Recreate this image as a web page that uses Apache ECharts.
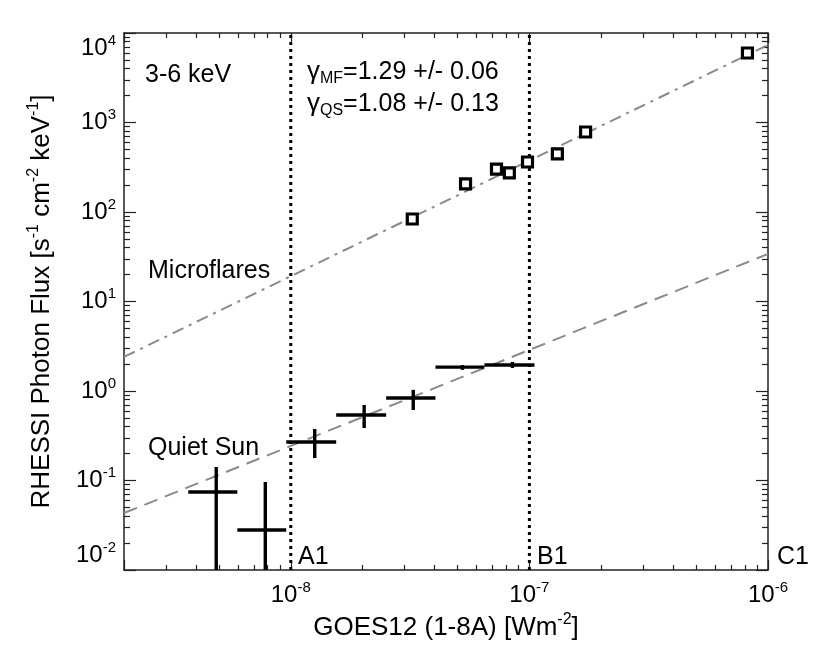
<!DOCTYPE html>
<html><head><meta charset="utf-8">
<script src="https://cdn.jsdelivr.net/npm/echarts@6/dist/echarts.min.js"></script>
<style>html,body{margin:0;padding:0;background:#fff}#c{width:830px;height:652px}</style>
</head><body><div id="c"></div>
<script>
// ---- Data ----
// Microflares (squares)
const mfX = [3.23e-8, 5.40e-8, 7.28e-8, 8.24e-8, 9.82e-8, 1.31e-7, 1.72e-7, 8.20e-7];
const mfY = [83.5, 206, 302, 273, 362, 445, 783, 5980];
// Quiet Sun (crosses): centre, bin edges, error range
const qsX   = [4.87e-9, 7.82e-9, 1.26e-8, 2.03e-8, 3.26e-8, 5.24e-8, 8.49e-8];
const qsY   = [0.0744, 0.0280, 0.269, 0.539, 0.835, 1.85, 1.95];
const qsXlo = [3.72e-9, 5.97e-9, 9.57e-9, 1.55e-8, 2.51e-8, 4.04e-8, 6.48e-8];
const qsXhi = [5.97e-9, 9.57e-9, 1.55e-8, 2.51e-8, 4.04e-8, 6.48e-8, 1.05e-7];
const qsYlo = [0.001, 0.001, 0.178, 0.386, 0.613, 1.72, 1.81];
const qsYhi = [0.1416, 0.0962, 0.376, 0.698, 1.03, 1.95, 2.11];
// Power-law fit lines (end points)
const mfFitX = [2e-9, 1e-6];
const mfFitY = [2.40, 7350];
const qsFitX = [2e-9, 1e-6];
const qsFitY = [0.0433, 34];
// GOES class boundaries
const classX = [1e-8, 1e-7];
const classLabels = ['A1', 'B1', 'C1'];
// Axis ranges and minor tick mantissas
const xRange = [2e-9, 1e-6];
const yRange = [1e-2, 1e4];
const mantissas = [2, 3, 4, 5, 6, 7, 8, 9];
const xDecades = [1e-9, 1e-8, 1e-7];
const yDecades = [1e-2, 1e-1, 1, 1e1, 1e2, 1e3];

const FONT = "'Liberation Sans', Arial, Helvetica, sans-serif";
function minorTicks(decades, range) {
  const out = [];
  decades.forEach(d => mantissas.forEach(m => { const v = m * d; if (v > range[0] * 1.0001 && v < range[1] * 0.9999) out.push(v); }));
  return out;
}
const xMinor = minorTicks(xDecades, xRange);
const yMinor = minorTicks(yDecades, yRange);

function powLabel(v) {
  const e = Math.round(Math.log10(v));
  if (Math.abs(v / Math.pow(10, e) - 1) > 1e-6) return '';
  return '{b|10}{s|' + e + '}';
}
const tickRich = {
  b: { fontSize: 24, lineHeight: 30, fontFamily: FONT, color: '#000' },
  s: { fontSize: 15, lineHeight: 15, verticalAlign: 'top', fontFamily: FONT, color: '#000' }
};
const AX = '#222';

function xAxisDef(pos, major, showLabel, showLine) {
  const a = {
    type: 'log', logBase: 10, position: pos, min: xRange[0], max: xRange[1],
    axisLine: { show: showLine, lineStyle: { color: AX, width: 1.5 } },
    splitLine: { show: false },
    axisTick: { show: true, inside: true, length: major ? 10 : 5, lineStyle: { color: AX, width: 1.2 } },
    axisLabel: { show: showLabel, margin: 10, fontSize: 24, color: '#000', fontFamily: FONT, formatter: powLabel, rich: tickRich },
    silent: true
  };
  if (!major) a.axisTick.customValues = xMinor;
  return a;
}
function yAxisDef(pos, major, showLabel, showLine) {
  const a = {
    type: 'log', logBase: 10, position: pos, min: yRange[0], max: yRange[1],
    axisLine: { show: showLine, lineStyle: { color: AX, width: 1.5 } },
    splitLine: { show: false },
    axisTick: { show: true, inside: true, length: major ? 12 : 6, lineStyle: { color: AX, width: 1.2 } },
    axisLabel: { show: showLabel, margin: 8, fontSize: 24, color: '#000', fontFamily: FONT, formatter: powLabel, rich: tickRich,
                 verticalAlignMinLabel: 'bottom', verticalAlignMaxLabel: 'top' },
    silent: true
  };
  if (!major) a.axisTick.customValues = yMinor;
  return a;
}

const nameStyle = { rich: {
  t: { fontSize: 26, lineHeight: 32, fontFamily: FONT, color: '#000' },
  s: { fontSize: 16, lineHeight: 16, verticalAlign: 'top', fontFamily: FONT, color: '#000' } } };

const xa0 = xAxisDef('bottom', true, true, true);
xa0.name = '{t|GOES12 (1-8A) [Wm}{s|-2}{t|]}';
xa0.nameLocation = 'middle';
xa0.nameGap = 36;
xa0.nameTextStyle = nameStyle;

const ya0 = yAxisDef('left', true, true, true);
ya0.name = '{t|RHESSI Photon Flux [s}{s|-1}{t| cm}{s|-2}{t| keV}{s|-1}{t|]}';
ya0.nameLocation = 'middle';
ya0.nameRotate = 90;
ya0.nameGap = 66;
ya0.nameTextStyle = nameStyle;

const zip = (a, b) => a.map((v, i) => [v, b[i]]);
const qsData = qsX.map((v, i) => [v, qsY[i], qsXlo[i], qsXhi[i], qsYlo[i], qsYhi[i]]);

const classSeries = classX.map(v => ({
  type: 'line', data: [[v, yRange[0]], [v, yRange[1]]], symbol: 'none', silent: true, z: 1,
  lineStyle: { color: '#000', width: 3, type: [3, 4] }
}));

const chart = echarts.init(document.getElementById('c'), null, { renderer: 'canvas' });
chart.setOption({
  animation: false,
  backgroundColor: '#fff',
  textStyle: { fontFamily: FONT },
  grid: { left: 124, right: 62, top: 33, bottom: 82, containLabel: false, outerBoundsMode: 'none' },
  xAxis: [xa0, xAxisDef('bottom', false, false, false), xAxisDef('top', true, false, true), xAxisDef('top', false, false, false)],
  yAxis: [ya0, yAxisDef('left', false, false, false), yAxisDef('right', true, false, true), yAxisDef('right', false, false, false)],
  series: classSeries.concat([
    {
      type: 'line', data: zip(mfFitX, mfFitY), symbol: 'none', silent: true, z: 2,
      lineStyle: { color: '#8a8a8a', width: 2, type: [12, 6, 3, 6] }
    },
    {
      type: 'line', data: zip(qsFitX, qsFitY), symbol: 'none', silent: true, z: 2,
      lineStyle: { color: '#8a8a8a', width: 2, type: [14, 8] }
    },
    {
      type: 'custom', data: qsData, clip: true, z: 3, silent: true,
      encode: { x: [0, 2, 3], y: [1, 4, 5] },
      renderItem: function (params, api) {
        const xc = api.value(0), y = api.value(1), xlo = api.value(2), xhi = api.value(3), ylo = api.value(4), yhi = api.value(5);
        const a = api.coord([xlo, y]), b = api.coord([xhi, y]);
        const c = api.coord([xc, ylo]), d = api.coord([xc, yhi]);
        const st = { stroke: '#000', lineWidth: 3.4 };
        return { type: 'group', children: [
          { type: 'line', shape: { x1: a[0], y1: a[1], x2: b[0], y2: b[1] }, style: st },
          { type: 'line', shape: { x1: c[0], y1: c[1], x2: d[0], y2: d[1] }, style: st }
        ] };
      }
    },
    {
      type: 'scatter', data: zip(mfX, mfY), symbol: 'rect', symbolSize: 10, z: 4, silent: true,
      itemStyle: { color: '#fff', borderColor: '#000', borderWidth: 3.2, opacity: 1 }
    }
  ]),
  graphic: [
    { type: 'text', x: 145, y: 75, style: { text: '3-6 keV', font: '25px ' + FONT, fill: '#000', verticalAlign: 'middle' } },
    { type: 'text', x: 148, y: 271, style: { text: 'Microflares', font: '25px ' + FONT, fill: '#000', verticalAlign: 'middle' } },
    { type: 'text', x: 148, y: 448, style: { text: 'Quiet Sun', font: '25px ' + FONT, fill: '#000', verticalAlign: 'middle' } },
    { type: 'text', x: 298, y: 557, style: { text: classLabels[0], font: '25px ' + FONT, fill: '#000', verticalAlign: 'middle' } },
    { type: 'text', x: 537, y: 557, style: { text: classLabels[1], font: '25px ' + FONT, fill: '#000', verticalAlign: 'middle' } },
    { type: 'text', x: 777, y: 557, style: { text: classLabels[2], font: '25px ' + FONT, fill: '#000', verticalAlign: 'middle' } },
    { type: 'text', x: 307, y: 72, style: {
      text: '{g|γ}{u|MF}{t|=1.29 +/- 0.06}', verticalAlign: 'middle',
      rich: {
        g: { fontSize: 26, lineHeight: 30, fontFamily: FONT, fill: '#000' },
        u: { fontSize: 16, lineHeight: 16, verticalAlign: 'bottom', fontFamily: FONT, fill: '#000' },
        t: { fontSize: 25, lineHeight: 30, fontFamily: FONT, fill: '#000' } } } },
    { type: 'text', x: 307, y: 104, style: {
      text: '{g|γ}{u|QS}{t|=1.08 +/- 0.13}', verticalAlign: 'middle',
      rich: {
        g: { fontSize: 26, lineHeight: 30, fontFamily: FONT, fill: '#000' },
        u: { fontSize: 16, lineHeight: 16, verticalAlign: 'bottom', fontFamily: FONT, fill: '#000' },
        t: { fontSize: 25, lineHeight: 30, fontFamily: FONT, fill: '#000' } } } }
  ]
});
</script></body></html>
